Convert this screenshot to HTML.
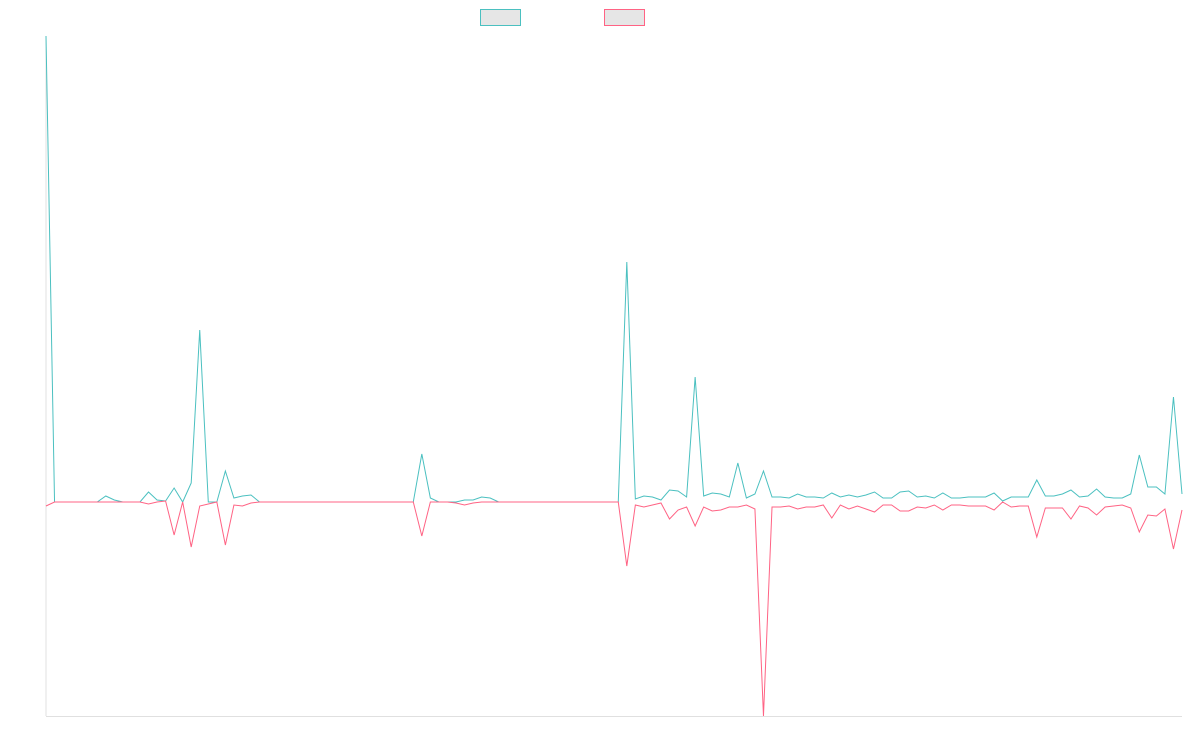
<!DOCTYPE html>
<html><head><meta charset="utf-8"><style>html,body{margin:0;padding:0;background:#fff;}svg{display:block}</style></head>
<body>
<svg id="s" width="1200" height="750" xmlns="http://www.w3.org/2000/svg">
<rect x="480.5" y="9.5" width="40" height="16" fill="#e6e6e6" stroke="rgb(75,192,192)" stroke-width="1"/>
<rect x="604.5" y="9.5" width="40" height="16" fill="#e6e6e6" stroke="rgb(255,99,132)" stroke-width="1"/>
<line x1="46" y1="36" x2="46" y2="716" stroke="#e0e0e0" stroke-width="1"/>
<line x1="46" y1="716.5" x2="1182" y2="716.5" stroke="#e0e0e0" stroke-width="1"/>
<polyline id="t" fill="none" stroke="rgb(75,192,192)" stroke-width="1"/>
<polyline id="p" fill="none" stroke="rgb(255,99,132)" stroke-width="1"/>
</svg>
<script>
var T=new Array(134).fill(502),P=new Array(134).fill(502);
function st(a,o){for(var k in o)a[k]=o[k];}
st(T,{0:36,7:496,8:500,12:492,13:500,14:501,15:488,17:483,18:330,21:471,22:498,23:496,24:495,44:454,45:498,49:500,50:500,51:497,52:498,
68:262,69:499,70:496,71:497,72:500,73:490,74:491,75:497,76:377,77:496,78:493,79:494,80:497,81:463,82:498,83:494,84:471,85:497,86:497,87:498,88:494,89:497,90:497,91:498,92:493,93:497,94:495,95:497,96:495,97:492,98:498,
99:498,100:492,101:491,102:497,103:496,104:498,105:493,106:498,107:498,108:497,109:497,110:497,111:493,112:501,113:497,114:497,115:497,116:480,117:496,118:496,119:494,120:490,121:497,122:496,123:489,124:497,125:498,126:498,127:494,128:455,129:487,130:487,131:494,132:397,133:494});
st(P,{0:506,12:504,14:501,15:535,17:547,18:506,19:504,21:545,22:505,23:506,24:503,44:536,48:503,49:505,50:503,
68:566,69:505,70:507,71:505,72:503,73:519,74:510,75:507,76:526,77:507,78:511,79:510,80:507,81:507,82:505,83:509,84:716,85:507,86:507,87:506,88:509,89:507,90:507,91:505,92:518,93:505,94:509,95:506,96:509,97:512,98:505,
99:505,100:511,101:511,102:507,103:508,104:505,105:510,106:505,107:505,108:506,109:506,110:506,111:510,112:502,113:507,114:506,115:506,116:537,117:508,118:508,119:508,120:519,121:506,122:508,123:515,124:507,125:506,126:505,127:508,128:532,129:515,130:516,131:509,132:549,133:510});
function pts(a){return a.map(function(y,i){return (46+i*1136/133).toFixed(2)+","+y}).join(" ");}
document.getElementById("t").setAttribute("points",pts(T));
document.getElementById("p").setAttribute("points",pts(P));
</script>
</body></html>
